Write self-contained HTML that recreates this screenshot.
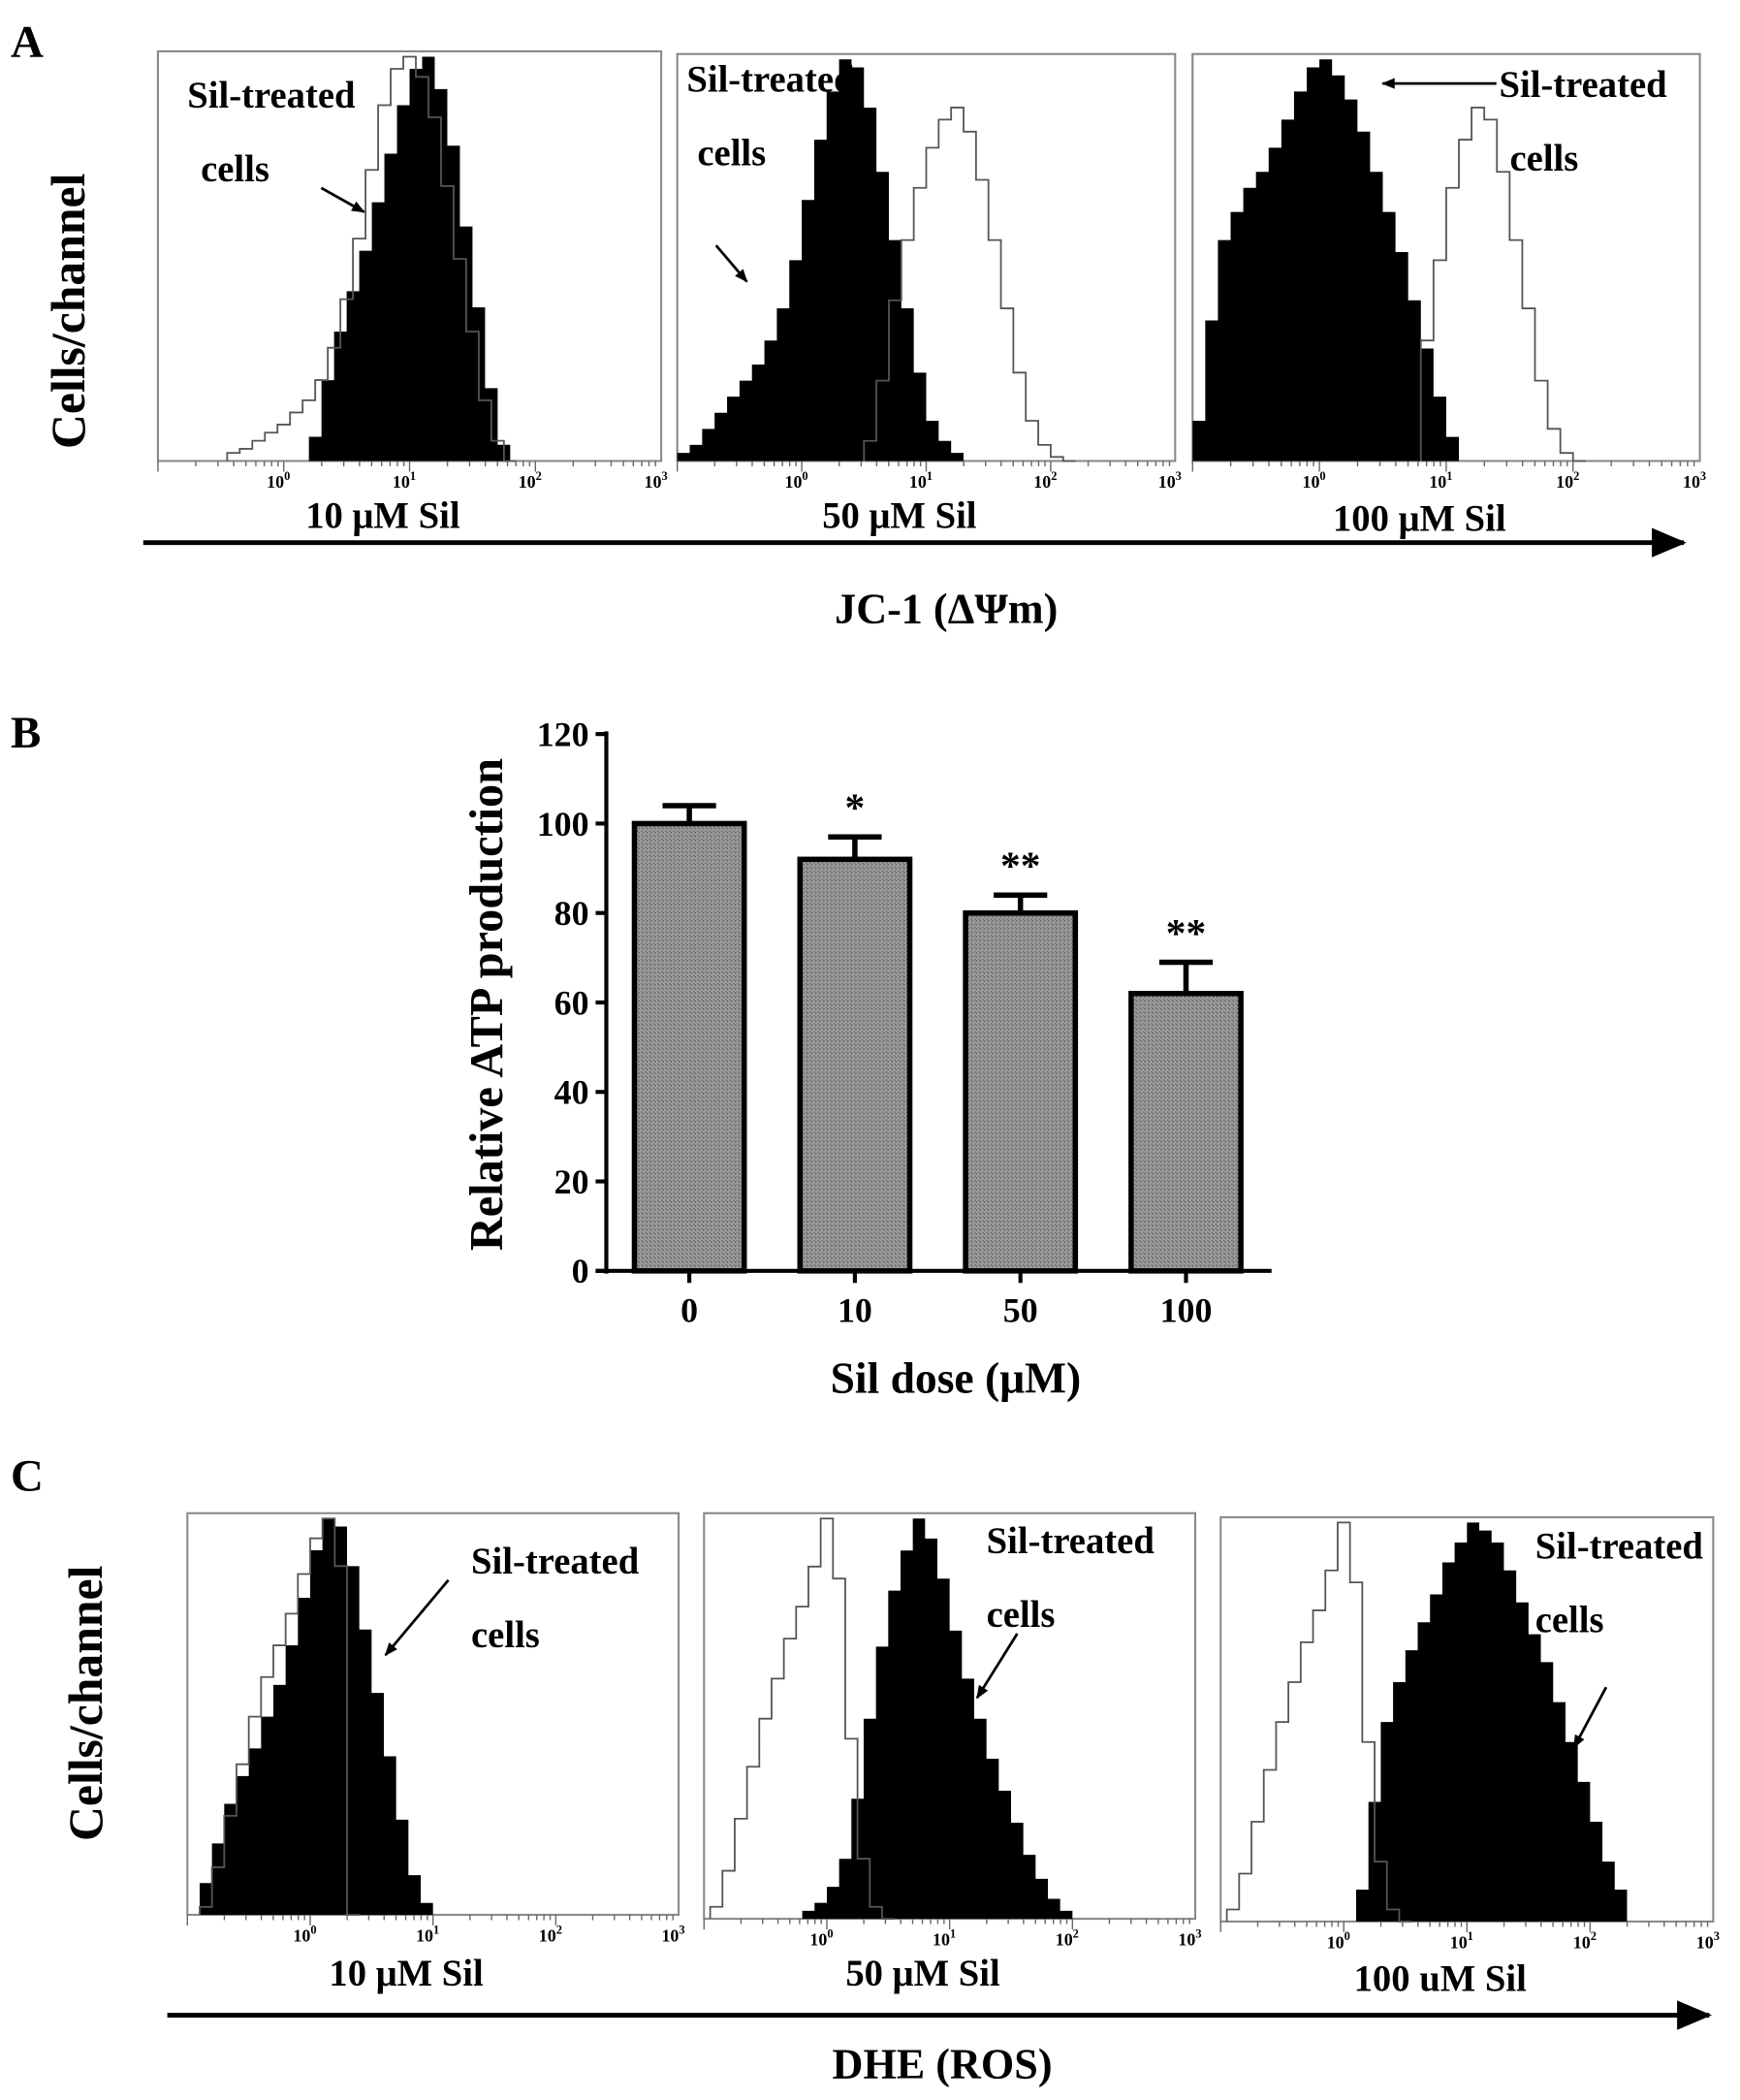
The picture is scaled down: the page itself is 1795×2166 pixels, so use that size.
<!DOCTYPE html>
<html><head><meta charset="utf-8"><style>
html,body{margin:0;padding:0;background:#fff;}
svg{display:block;}
text{font-family:"Liberation Serif",serif;font-weight:bold;fill:#000;}
</style></head><body>
<svg id="fig" width="1795" height="2166" viewBox="0 0 1300 1568" xmlns="http://www.w3.org/2000/svg">
<defs>
<marker id="ah" markerWidth="10" markerHeight="8" refX="9" refY="4" orient="auto" markerUnits="userSpaceOnUse"><path d="M0,0 L10,4 L0,8 z" fill="#000"/></marker>
<marker id="bigah" markerWidth="26" markerHeight="22" refX="24" refY="11" orient="auto" markerUnits="userSpaceOnUse"><path d="M0,0 L26,11 L0,22 z" fill="#000"/></marker>
<pattern id="hatch" width="3" height="3" patternUnits="userSpaceOnUse"><rect width="3" height="3" fill="#9a9a9a"/><rect width="1" height="1" fill="#5a5a5a"/><rect x="2" y="2" width="1" height="1" fill="#6a6a6a"/></pattern>
</defs>
<text x="8" y="42" font-size="34">A</text>
<text x="8" y="558" font-size="34">B</text>
<text x="8" y="1113" font-size="34">C</text>
<text transform="translate(63,232) rotate(-90)" text-anchor="middle" font-size="36" font-family="Liberation Sans">Cells/channel</text>
<text transform="translate(76,1272) rotate(-90)" text-anchor="middle" font-size="36" font-family="Liberation Sans">Cells/channel</text>
<line x1="107" y1="405" x2="1258" y2="405" stroke="#000" stroke-width="3.5" marker-end="url(#bigah)"/>
<line x1="125" y1="1505" x2="1277" y2="1505" stroke="#000" stroke-width="3.5" marker-end="url(#bigah)"/>
<text x="707" y="465" text-anchor="middle" font-size="32">JC-1 (ΔΨm)</text>
<text x="704" y="1552" text-anchor="middle" font-size="32">DHE (ROS)</text>
<g id="hists"></g>
<g id="barchart"></g>
</svg>
<script>
// ---------- Flow histograms (bins of 0.1 log units) ----------
const a1Start = 0.2,  a1Fill = [6,20,32,42,52,64,76,88,97,100,92,78,58,38,18,4,0];
const a1CtlStart = -0.45, a1Ctl = [2,3,5,7,9,12,15,20,28,40,55,72,88,97,100,95,85,68,50,32,15,5,0];
const a2Start = -1.0, a2Fill = [2,4,8,12,16,20,24,30,38,50,65,80,92,100,98,88,72,55,38,22,10,5,2,0];
const a2CtlStart = 0.5, a2Ctl = [5,20,40,55,68,78,85,88,82,70,55,38,22,10,4,1,0];
const a3Start = -1.0, a3Fill = [10,35,55,62,68,72,78,85,92,98,100,96,90,82,72,62,52,40,28,16,6,0];
const a3CtlStart = 0.8, a3Ctl = [30,50,68,80,88,85,72,55,38,20,8,2,0];
const c1Start = -0.9, c1Fill = [8,18,28,35,42,50,58,68,80,92,100,98,88,72,56,40,24,10,3,0];
const c1CtlStart = -0.9, c1Ctl = [2,12,25,38,50,60,68,76,86,95,100,88,0];
const c2Start = -0.2, c2Fill = [2,4,8,15,30,50,68,82,92,100,95,85,72,60,50,40,32,24,16,10,5,2,0];
const c2CtlStart = -0.95, c2Ctl = [3,12,25,38,50,60,70,78,88,100,85,45,15,3,0];
const c3Start = 0.1, c3Fill = [8,30,50,60,68,75,82,90,95,100,98,95,88,80,72,65,55,45,35,25,15,8,0];
const c3CtlStart = -0.95, c3Ctl = [3,12,25,38,50,60,70,78,88,100,85,45,15,3,0];
const decadeLabels = ['0','1','2','3'];
const sampleLabels = ['10 μM Sil','50 μM Sil','100 μM Sil'];
const sampleLabelsC = ['10 μM Sil','50 μM Sil','100 uM Sil'];

const NS = 'http://www.w3.org/2000/svg';
function mk(tag, attrs, parent){const e=document.createElementNS(NS,tag);for(const k in attrs)e.setAttribute(k,attrs[k]);parent.appendChild(e);return e;}
const hg = document.getElementById('hists');

const boxes = [
 {x0:118,x1:494,y0:38,y1:344,fs:a1Start,f:a1Fill,cs:a1CtlStart,c:a1Ctl,lab:sampleLabels[0],ly:394,name:'a-10'},
 {x0:506,x1:878,y0:40,y1:344,fs:a2Start,f:a2Fill,cs:a2CtlStart,c:a2Ctl,lab:sampleLabels[1],ly:394,name:'a-50'},
 {x0:891,x1:1270,y0:40,y1:344,fs:a3Start,f:a3Fill,cs:a3CtlStart,c:a3Ctl,lab:sampleLabels[2],ly:396,name:'a-100'},
 {x0:140,x1:507,y0:1130,y1:1430,fs:c1Start,f:c1Fill,cs:c1CtlStart,c:c1Ctl,lab:sampleLabelsC[0],ly:1483,name:'c-10'},
 {x0:526,x1:893,y0:1130,y1:1433,fs:c2Start,f:c2Fill,cs:c2CtlStart,c:c2Ctl,lab:sampleLabelsC[1],ly:1483,name:'c-50'},
 {x0:912,x1:1280,y0:1133,y1:1435,fs:c3Start,f:c3Fill,cs:c3CtlStart,c:c3Ctl,lab:sampleLabelsC[2],ly:1487,name:'c-100'}
];
boxes.forEach(b=>{
  const g = mk('g',{},hg);
  
  
  const xs = v => b.x0 + (v+1)/4*(b.x1-b.x0);
  const ys = v => b.y1 - v/100*(b.y1-b.y0-4);
  const fr = mk('rect',{x:b.x0,y:b.y0,width:b.x1-b.x0,height:b.y1-b.y0,fill:'#fff',stroke:'#888','stroke-width':1.5},g);
  
  
  let d='M'+xs(b.fs)+','+b.y1;
  b.f.forEach((v,i)=>{const x0=xs(b.fs+i*0.1),x1=xs(b.fs+(i+1)*0.1);d+=' L'+x0+','+ys(v)+' L'+x1+','+ys(v);});
  d+=' L'+xs(b.fs+b.f.length*0.1)+','+b.y1+' Z';
  const fp=mk('path',{d:d,fill:'#000'},g);
  
  
  let d2='M'+xs(b.cs)+','+b.y1;
  b.c.forEach((v,i)=>{const x0=xs(b.cs+i*0.1),x1=xs(b.cs+(i+1)*0.1);d2+=' L'+x0+','+ys(v)+' L'+x1+','+ys(v);});
  const cp=mk('path',{d:d2,fill:'none',stroke:'#555','stroke-width':1.3},g);
  
  
  for(let dec=-1;dec<3;dec++){for(let m=1;m<10;m++){const x=xs(dec+Math.log10(m));const len=m===1?8:4;mk('line',{x1:x,x2:x,y1:b.y1,y2:b.y1+len,stroke:'#666','stroke-width':1},g);}}
  decadeLabels.forEach((s,i)=>{const t=mk('text',{x:xs(i)-4,y:b.y1+20,'text-anchor':'middle','font-size':13,'font-weight':'normal',fill:'#444'},g);t.innerHTML='10<tspan dy="-6" font-size="9">'+s+'</tspan>';});
  const lt=mk('text',{x:(b.x0+b.x1)/2-20,y:b.ly,'text-anchor':'middle','font-size':28},g);
  
  
  lt.textContent=b.lab;
});
const ann=[
 ['Sil-treated',140,80],['cells',150,135],['Sil-treated',513,68],['cells',521,123],['Sil-treated',1120,72],['cells',1128,127],
 ['Sil-treated',352,1175],['cells',352,1230],['Sil-treated',737,1160],['cells',737,1215],['Sil-treated',1147,1164],['cells',1147,1219]];
ann.forEach(a=>{const t=mk('text',{x:a[1],y:a[2],'font-size':28},hg);t.textContent=a[0];});
const arrows=[[240,140,272,158],[535,183,558,210],[1118,62,1033,62],[335,1180,288,1236],[760,1220,730,1268],[1200,1260,1176,1305]];
arrows.forEach(a=>{const l=mk('line',{x1:a[0],y1:a[1],x2:a[2],y2:a[3],stroke:'#000','stroke-width':2,'marker-end':'url(#ah)'},hg);});

// ---------- Bar chart B ----------
const doses = ['0','10','50','100'];
const atp = [100,92,80,62];
const atpErr = [4,5,4,7];
const sigMarks = ['','*','**','**'];
const yTicks = [0,20,40,60,80,100,120];

const bg=document.getElementById('barchart');
const ax={x0:453,x1:950,y0:949,y1:548};
const yS=v=>ax.y0-(v/120)*(ax.y0-ax.y1);
const xS=i=>515+i*123.7;
const bw=82;
atp.forEach((v,i)=>{
  const cx=xS(i);
  const eb=mk('path',{d:'M'+cx+','+yS(v)+' V'+yS(v+atpErr[i])+' M'+(cx-20)+','+yS(v+atpErr[i])+' H'+(cx+20),stroke:'#000','stroke-width':4,fill:'none'},bg);
  
  
  const r=mk('rect',{x:cx-bw/2,y:yS(v),width:bw,height:yS(0)-yS(v),fill:'url(#hatch)',stroke:'#000','stroke-width':4},bg);
  
  
  if(sigMarks[i]){const t=mk('text',{x:cx,y:yS(v+atpErr[i])-12,'text-anchor':'middle','font-size':30},bg);t.textContent=sigMarks[i];}
  mk('line',{x1:cx,x2:cx,y1:ax.y0,y2:ax.y0+9,stroke:'#000','stroke-width':3},bg);
  const xl=mk('text',{x:cx,y:987,'text-anchor':'middle','font-size':26},bg);
  
  
  xl.textContent=doses[i];
});
const yaxis=mk('line',{x1:ax.x0,x2:ax.x0,y1:ax.y1-2,y2:ax.y0+2,stroke:'#000','stroke-width':3},bg);


const xaxis=mk('line',{x1:445,x2:ax.x1,y1:ax.y0,y2:ax.y0,stroke:'#000','stroke-width':3},bg);


yTicks.forEach(v=>{
  mk('line',{x1:ax.x0-8,x2:ax.x0,y1:yS(v),y2:yS(v),stroke:'#000','stroke-width':3},bg);
  const t=mk('text',{x:440,y:yS(v)+9,'text-anchor':'end','font-size':26},bg);
  
  
  t.textContent=v;
});
const yt=mk('text',{transform:'translate(375,750) rotate(-90)','text-anchor':'middle','font-size':35},bg);


yt.textContent='Relative ATP production';
const xt=mk('text',{x:714,y:1040,'text-anchor':'middle','font-size':33},bg);


xt.textContent='Sil dose (μM)';
</script>
</body></html>
